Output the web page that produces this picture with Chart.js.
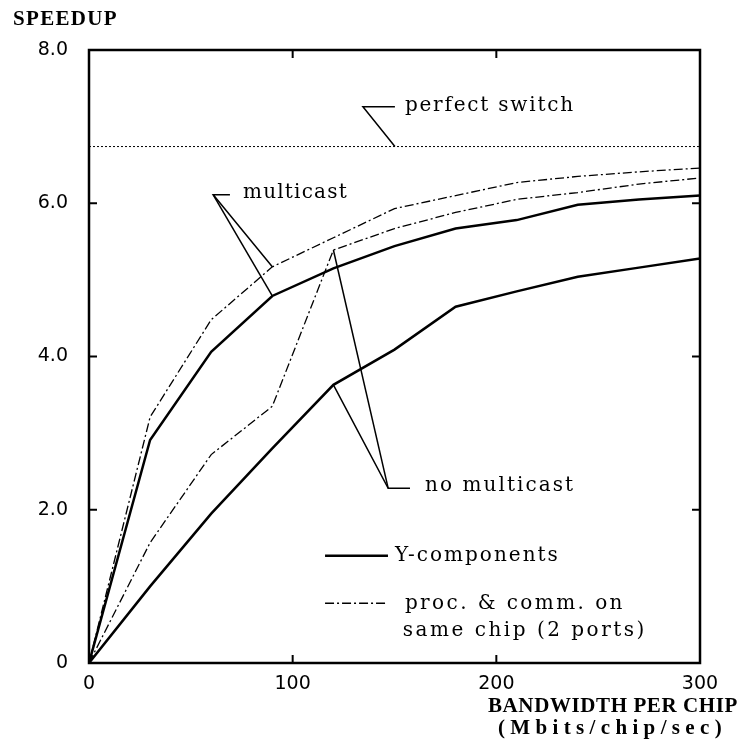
<!DOCTYPE html>
<html>
<head>
<meta charset="utf-8">
<script src="https://cdn.jsdelivr.net/npm/chart.js@4"></script>
<style>
  html, body { margin: 0; padding: 0; background: #fff; }
  #wrap { width: 740px; height: 751px; }
</style>
</head>
<body>
<div id="wrap"><canvas id="speedupChart" width="740" height="751"></canvas></div>
<script>
// 带宽 (Mbits/chip/sec)
const bandwidth = [0, 30, 60, 90, 120, 150, 180, 210, 240, 270, 300];

// Y-components
const yMulticast   = [0, 2.91, 4.06, 4.79, 5.15, 5.44, 5.67, 5.78, 5.98, 6.05, 6.10];
const yNoMulticast = [0, 1.00, 1.95, 2.80, 3.63, 4.09, 4.65, 4.85, 5.04, 5.16, 5.28];

// proc. & comm. on same chip (2 ports)
const procMulticast   = [0, 3.21, 4.48, 5.17, 5.55, 5.93, 6.10, 6.27, 6.35, 6.41, 6.46];
const procNoMulticast = [0, 1.57, 2.72, 3.35, 5.39, 5.67, 5.88, 6.05, 6.14, 6.25, 6.33];

// perfect switch
const perfectSwitch = 6.74;

const xTicks = [0, 100, 200, 300];
const yTicks = [0, 2, 4, 6, 8];

const DASH_DOT = [9, 3, 2, 3];

function toPoints(values) {
    return bandwidth.map((b, i) => ({ x: b, y: values[i] }));
}

// 画文字, 按目标宽度调整字间距
function fitText(ctx, str, x, y, width) {
    ctx.letterSpacing = '0px';
    const m = ctx.measureText(str).width;
    const sp = str.length > 1 ? (width - m) / str.length : 0;
    ctx.letterSpacing = sp + 'px';
    ctx.fillText(str, x, y);
    ctx.letterSpacing = '0px';
}

function strokePath(ctx, pts) {
    ctx.beginPath();
    pts.forEach((p, i) => i === 0 ? ctx.moveTo(p[0], p[1]) : ctx.lineTo(p[0], p[1]));
    ctx.stroke();
}

// 框, 刻度, 标注, 图例, 轴标题
const decorPlugin = {
    id: 'decor',
    afterDatasetsDraw(chart) {
        const { ctx, chartArea: a, scales: { x, y } } = chart;
        const px = v => x.getPixelForValue(v);
        const py = v => y.getPixelForValue(v);
        ctx.save();
        ctx.strokeStyle = '#000';
        ctx.fillStyle = '#000';

        // frame
        ctx.lineWidth = 2.5;
        ctx.strokeRect(a.left, a.top, a.width, a.height);

        // inward ticks
        ctx.lineWidth = 2;
        xTicks.slice(1, -1).forEach(v => {
            strokePath(ctx, [[px(v), a.bottom], [px(v), a.bottom - 8]]);
            strokePath(ctx, [[px(v), a.top], [px(v), a.top + 8]]);
        });
        yTicks.slice(1, -1).forEach(v => {
            strokePath(ctx, [[a.left, py(v)], [a.left + 8, py(v)]]);
            strokePath(ctx, [[a.right, py(v)], [a.right - 8, py(v)]]);
        });

        // leader lines
        ctx.lineWidth = 1.5;
        strokePath(ctx, [[px(150.2), py(7.26)], [px(134.5), py(7.26)], [px(150.2), py(perfectSwitch)]]);
        strokePath(ctx, [[px(69.2), py(6.11)], [px(61), py(6.11)], [px(90), py(procMulticast[3])]]);
        strokePath(ctx, [[px(61), py(6.11)], [px(90), py(yMulticast[3])]]);
        strokePath(ctx, [[px(157.6), py(2.28)], [px(146.9), py(2.28)], [px(120), py(yNoMulticast[4])]]);
        strokePath(ctx, [[px(146.9), py(2.28)], [px(120), py(procNoMulticast[4])]]);

        // annotation text
        ctx.font = '20px "DejaVu Serif"';
        ctx.textBaseline = 'middle';
        ctx.textAlign = 'left';
        fitText(ctx, 'perfect switch', px(155.1), py(7.27), 170);
        fitText(ctx, 'multicast', px(75.6), py(6.14), 105);
        fitText(ctx, 'no multicast', px(165), py(2.31), 150);

        // legend
        ctx.lineWidth = 2.5;
        strokePath(ctx, [[px(115.9), py(1.40)], [px(146.8), py(1.40)]]);
        ctx.lineWidth = 1.3;
        ctx.setLineDash(DASH_DOT);
        strokePath(ctx, [[px(115.9), py(0.78)], [px(146.8), py(0.78)]]);
        ctx.setLineDash([]);
        fitText(ctx, 'Y-components', px(150.2), py(1.40), 165);
        fitText(ctx, 'proc. & comm. on', px(155.1), py(0.77), 220);
        fitText(ctx, 'same chip (2 ports)', px(154.1), py(0.42), 244);

        // axis titles
        ctx.font = 'bold 21px "Liberation Serif"';
        fitText(ctx, 'SPEEDUP', 13, 20, 105);
        fitText(ctx, 'BANDWIDTH PER CHIP', 488, 707, 250);
        fitText(ctx, '(Mbits/chip/sec)', 498, 729, 229);
        ctx.restore();
    }
};

const ctx = document.getElementById('speedupChart').getContext('2d');
new Chart(ctx, {
    type: 'line',
    data: {
        datasets: [
            {
                label: 'perfect switch',
                data: [{ x: 0, y: perfectSwitch }, { x: 300, y: perfectSwitch }],
                borderColor: '#000',
                borderWidth: 1,
                borderDash: [2, 2],
                pointRadius: 0
            },
            {
                label: 'Y-components multicast',
                data: toPoints(yMulticast),
                borderColor: '#000',
                borderWidth: 2.5,
                pointRadius: 0
            },
            {
                label: 'Y-components no multicast',
                data: toPoints(yNoMulticast),
                borderColor: '#000',
                borderWidth: 2.5,
                pointRadius: 0
            },
            {
                label: 'proc. & comm. multicast',
                data: toPoints(procMulticast),
                borderColor: '#000',
                borderWidth: 1.3,
                borderDash: DASH_DOT,
                pointRadius: 0
            },
            {
                label: 'proc. & comm. no multicast',
                data: toPoints(procNoMulticast),
                borderColor: '#000',
                borderWidth: 1.3,
                borderDash: DASH_DOT,
                pointRadius: 0
            }
        ]
    },
    options: {
        responsive: false,
        animation: false,
        layout: { padding: { top: 50, right: 40, left: 0, bottom: 0 } },
        plugins: {
            legend: { display: false },
            tooltip: { enabled: false }
        },
        scales: {
            x: {
                type: 'linear',
                min: 0,
                max: 300,
                grid: { display: false, drawTicks: false },
                border: { display: false },
                afterFit: s => { s.height = 88; },
                afterBuildTicks: s => { s.ticks = xTicks.map(v => ({ value: v })); },
                ticks: {
                    padding: 10,
                    color: '#000',
                    font: { family: '"DejaVu Sans"', size: 19 },
                    maxRotation: 0
                }
            },
            y: {
                type: 'linear',
                min: 0,
                max: 8,
                grid: { display: false, drawTicks: false },
                border: { display: false },
                afterFit: s => { s.width = 89; },
                afterBuildTicks: s => { s.ticks = yTicks.map(v => ({ value: v })); },
                ticks: {
                    padding: 21,
                    color: '#000',
                    font: { family: '"DejaVu Sans"', size: 19 },
                    callback: v => v === 0 ? '0' : v.toFixed(1)
                }
            }
        }
    },
    plugins: [decorPlugin]
});
</script>
</body>
</html>
